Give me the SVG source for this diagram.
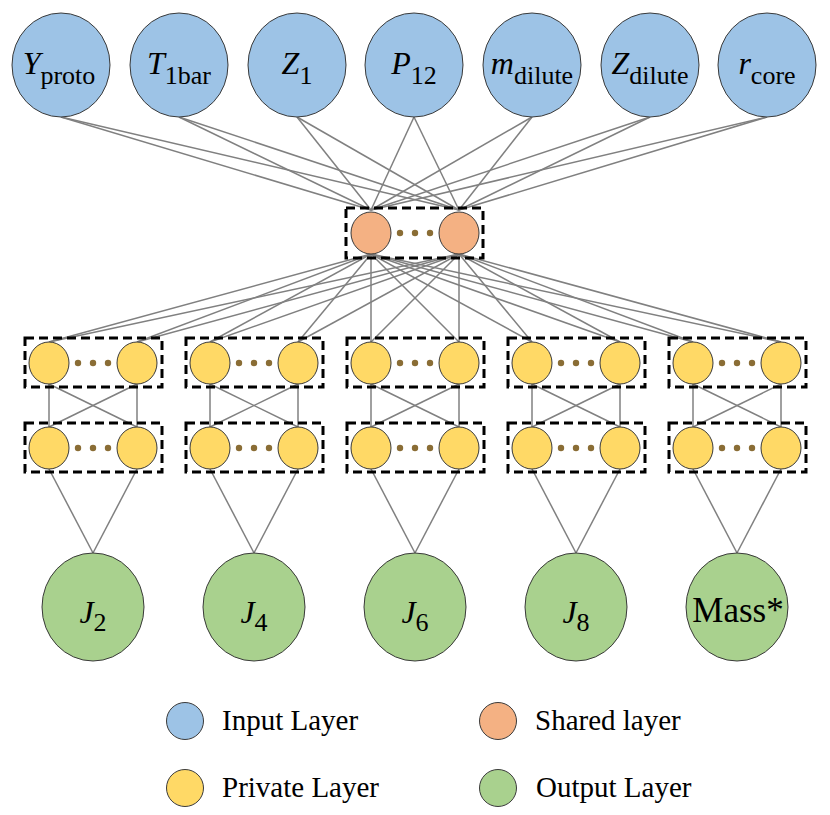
<svg xmlns="http://www.w3.org/2000/svg" width="830" height="815" viewBox="0 0 830 815">
<style>
.in{fill:#9DC3E6;stroke:#3a3a3a;stroke-width:1}
.sh{fill:#F4B183;stroke:#3a3a3a;stroke-width:1}
.pr{fill:#FFD966;stroke:#3a3a3a;stroke-width:1}
.out{fill:#A9D18E;stroke:#3a3a3a;stroke-width:1}
.box{fill:none;stroke:#000;stroke-width:3;stroke-dasharray:9 5}
.dot{fill:#8A6D35}
.conn line{stroke:#808080;stroke-width:1.5}
text, tspan{font-family:"Liberation Serif","Times New Roman",serif}
.lbl{fill:#000}
.main{font-family:"Liberation Serif","Times New Roman",serif;font-size:32px;font-style:italic}
.sub{font-family:"Liberation Serif","Times New Roman",serif;font-size:26px;font-style:normal}
.leg{font-family:"Liberation Serif","Times New Roman",serif;font-size:29px;fill:#000}
</style>
<defs>
<g id="dots"><circle cx="-15" cy="0" r="3.2" class="dot"/><circle cx="0" cy="0" r="3.2" class="dot"/><circle cx="15" cy="0" r="3.2" class="dot"/></g>
</defs>

<g id="connectors" class="conn">
<line x1="61" y1="117" x2="371" y2="210"/><line x1="61" y1="117" x2="459" y2="210"/>
<line x1="179" y1="117" x2="371" y2="210"/><line x1="179" y1="117" x2="459" y2="210"/>
<line x1="297" y1="117" x2="371" y2="210"/><line x1="297" y1="117" x2="459" y2="210"/>
<line x1="414" y1="117" x2="371" y2="210"/><line x1="414" y1="117" x2="459" y2="210"/>
<line x1="532" y1="117" x2="371" y2="210"/><line x1="532" y1="117" x2="459" y2="210"/>
<line x1="650" y1="117" x2="371" y2="210"/><line x1="650" y1="117" x2="459" y2="210"/>
<line x1="767" y1="117" x2="371" y2="210"/><line x1="767" y1="117" x2="459" y2="210"/>
<line x1="371" y1="254" x2="49" y2="342"/><line x1="459" y1="254" x2="49" y2="342"/>
<line x1="371" y1="254" x2="137" y2="342"/><line x1="459" y1="254" x2="137" y2="342"/>
<line x1="371" y1="254" x2="210" y2="342"/><line x1="459" y1="254" x2="210" y2="342"/>
<line x1="371" y1="254" x2="298" y2="342"/><line x1="459" y1="254" x2="298" y2="342"/>
<line x1="371" y1="254" x2="371" y2="342"/><line x1="459" y1="254" x2="371" y2="342"/>
<line x1="371" y1="254" x2="459" y2="342"/><line x1="459" y1="254" x2="459" y2="342"/>
<line x1="371" y1="254" x2="532" y2="342"/><line x1="459" y1="254" x2="532" y2="342"/>
<line x1="371" y1="254" x2="620" y2="342"/><line x1="459" y1="254" x2="620" y2="342"/>
<line x1="371" y1="254" x2="693" y2="342"/><line x1="459" y1="254" x2="693" y2="342"/>
<line x1="371" y1="254" x2="781" y2="342"/><line x1="459" y1="254" x2="781" y2="342"/>
<line x1="49" y1="384" x2="49" y2="427"/><line x1="137" y1="384" x2="137" y2="427"/><line x1="49" y1="384" x2="137" y2="427"/><line x1="137" y1="384" x2="49" y2="427"/>
<line x1="210" y1="384" x2="210" y2="427"/><line x1="298" y1="384" x2="298" y2="427"/><line x1="210" y1="384" x2="298" y2="427"/><line x1="298" y1="384" x2="210" y2="427"/>
<line x1="371" y1="384" x2="371" y2="427"/><line x1="459" y1="384" x2="459" y2="427"/><line x1="371" y1="384" x2="459" y2="427"/><line x1="459" y1="384" x2="371" y2="427"/>
<line x1="532" y1="384" x2="532" y2="427"/><line x1="620" y1="384" x2="620" y2="427"/><line x1="532" y1="384" x2="620" y2="427"/><line x1="620" y1="384" x2="532" y2="427"/>
<line x1="693" y1="384" x2="693" y2="427"/><line x1="781" y1="384" x2="781" y2="427"/><line x1="693" y1="384" x2="781" y2="427"/><line x1="781" y1="384" x2="693" y2="427"/>
<line x1="49" y1="469" x2="93" y2="553"/><line x1="137" y1="469" x2="93" y2="553"/>
<line x1="210" y1="469" x2="254" y2="553"/><line x1="298" y1="469" x2="254" y2="553"/>
<line x1="371" y1="469" x2="415" y2="553"/><line x1="459" y1="469" x2="415" y2="553"/>
<line x1="532" y1="469" x2="576" y2="553"/><line x1="620" y1="469" x2="576" y2="553"/>
<line x1="693" y1="469" x2="737" y2="553"/><line x1="781" y1="469" x2="737" y2="553"/>
</g>

<g id="in-yproto"><ellipse class="in" cx="61" cy="65" rx="49" ry="52"/><text class="lbl" x="59" y="74" text-anchor="middle"><tspan class="main">Y</tspan><tspan class="sub" dy="10">proto</tspan></text></g>
<g id="in-t1bar"><ellipse class="in" cx="179" cy="65" rx="49" ry="52"/><text class="lbl" x="179" y="74" text-anchor="middle"><tspan class="main">T</tspan><tspan class="sub" dy="10">1bar</tspan></text></g>
<g id="in-z1"><ellipse class="in" cx="297" cy="65" rx="49" ry="52"/><text class="lbl" x="297" y="74" text-anchor="middle"><tspan class="main">Z</tspan><tspan class="sub" dy="10">1</tspan></text></g>
<g id="in-p12"><ellipse class="in" cx="414" cy="65" rx="49" ry="52"/><text class="lbl" x="414" y="74" text-anchor="middle"><tspan class="main">P</tspan><tspan class="sub" dy="10">12</tspan></text></g>
<g id="in-mdilute"><ellipse class="in" cx="532" cy="65" rx="49" ry="52"/><text class="lbl" x="532" y="74" text-anchor="middle"><tspan class="main">m</tspan><tspan class="sub" dy="10">dilute</tspan></text></g>
<g id="in-zdilute"><ellipse class="in" cx="650" cy="65" rx="49" ry="52"/><text class="lbl" x="650" y="74" text-anchor="middle"><tspan class="main">Z</tspan><tspan class="sub" dy="10">dilute</tspan></text></g>
<g id="in-rcore"><ellipse class="in" cx="767" cy="65" rx="49" ry="52"/><text class="lbl" x="767" y="74" text-anchor="middle"><tspan class="main">r</tspan><tspan class="sub" dy="10">core</tspan></text></g>

<g id="shared">
<rect class="box" x="346" y="208" width="137" height="50"/>
<ellipse class="sh" cx="371" cy="233" rx="20" ry="21"/>
<ellipse class="sh" cx="459" cy="233" rx="20" ry="21"/>
<use href="#dots" x="415" y="233"/>
</g>

<g id="private-1">
<rect class="box" x="25" y="338" width="137" height="49"/>
<ellipse class="pr" cx="49" cy="363" rx="20" ry="21"/><ellipse class="pr" cx="137" cy="363" rx="20" ry="21"/><use href="#dots" x="93" y="363"/>
<rect class="box" x="25" y="423" width="137" height="49"/>
<ellipse class="pr" cx="49" cy="448" rx="20" ry="21"/><ellipse class="pr" cx="137" cy="448" rx="20" ry="21"/><use href="#dots" x="93" y="448"/>
</g>
<g id="private-2">
<rect class="box" x="186" y="338" width="137" height="49"/>
<ellipse class="pr" cx="210" cy="363" rx="20" ry="21"/><ellipse class="pr" cx="298" cy="363" rx="20" ry="21"/><use href="#dots" x="254" y="363"/>
<rect class="box" x="186" y="423" width="137" height="49"/>
<ellipse class="pr" cx="210" cy="448" rx="20" ry="21"/><ellipse class="pr" cx="298" cy="448" rx="20" ry="21"/><use href="#dots" x="254" y="448"/>
</g>
<g id="private-3">
<rect class="box" x="347" y="338" width="137" height="49"/>
<ellipse class="pr" cx="371" cy="363" rx="20" ry="21"/><ellipse class="pr" cx="459" cy="363" rx="20" ry="21"/><use href="#dots" x="415" y="363"/>
<rect class="box" x="347" y="423" width="137" height="49"/>
<ellipse class="pr" cx="371" cy="448" rx="20" ry="21"/><ellipse class="pr" cx="459" cy="448" rx="20" ry="21"/><use href="#dots" x="415" y="448"/>
</g>
<g id="private-4">
<rect class="box" x="508" y="338" width="137" height="49"/>
<ellipse class="pr" cx="532" cy="363" rx="20" ry="21"/><ellipse class="pr" cx="620" cy="363" rx="20" ry="21"/><use href="#dots" x="576" y="363"/>
<rect class="box" x="508" y="423" width="137" height="49"/>
<ellipse class="pr" cx="532" cy="448" rx="20" ry="21"/><ellipse class="pr" cx="620" cy="448" rx="20" ry="21"/><use href="#dots" x="576" y="448"/>
</g>
<g id="private-5">
<rect class="box" x="669" y="338" width="137" height="49"/>
<ellipse class="pr" cx="693" cy="363" rx="20" ry="21"/><ellipse class="pr" cx="781" cy="363" rx="20" ry="21"/><use href="#dots" x="737" y="363"/>
<rect class="box" x="669" y="423" width="137" height="49"/>
<ellipse class="pr" cx="693" cy="448" rx="20" ry="21"/><ellipse class="pr" cx="781" cy="448" rx="20" ry="21"/><use href="#dots" x="737" y="448"/>
</g>

<g id="out-j2"><ellipse class="out" cx="93" cy="607" rx="51" ry="54"/><text class="lbl" x="93" y="623" text-anchor="middle"><tspan class="main">J</tspan><tspan class="sub" dy="8">2</tspan></text></g>
<g id="out-j4"><ellipse class="out" cx="254" cy="607" rx="51" ry="54"/><text class="lbl" x="254" y="623" text-anchor="middle"><tspan class="main">J</tspan><tspan class="sub" dy="8">4</tspan></text></g>
<g id="out-j6"><ellipse class="out" cx="415" cy="607" rx="51" ry="54"/><text class="lbl" x="415" y="623" text-anchor="middle"><tspan class="main">J</tspan><tspan class="sub" dy="8">6</tspan></text></g>
<g id="out-j8"><ellipse class="out" cx="576" cy="607" rx="51" ry="54"/><text class="lbl" x="576" y="623" text-anchor="middle"><tspan class="main">J</tspan><tspan class="sub" dy="8">8</tspan></text></g>
<g id="out-mass"><ellipse class="out" cx="737" cy="607" rx="51" ry="54"/><text class="lbl" x="738" y="622" text-anchor="middle" font-size="35">Mass*</text></g>

<g id="legend">
<circle class="in" cx="185" cy="721" r="18.5"/><text class="leg" x="222" y="730">Input Layer</text>
<circle class="pr" cx="185" cy="788" r="18.5"/><text class="leg" x="222" y="797">Private Layer</text>
<circle class="sh" cx="498" cy="721" r="18.5"/><text class="leg" x="535" y="730">Shared layer</text>
<circle class="out" cx="498" cy="788" r="18.5"/><text class="leg" x="536" y="797">Output Layer</text>
</g>
</svg>
